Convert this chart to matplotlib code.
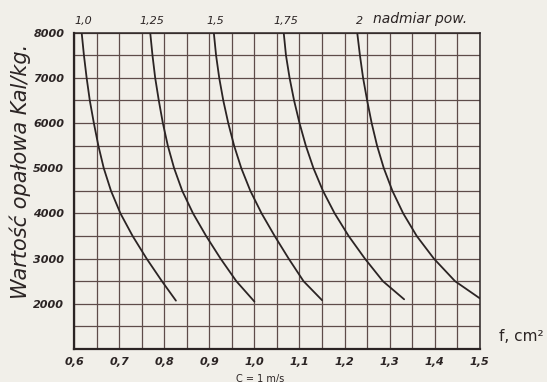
import numpy as np
import matplotlib
matplotlib.use("Agg")
import matplotlib.pyplot as plt

Q1 = [8000, 7500, 7000, 6500, 6000, 5500, 5000, 4500, 4000, 3500, 3000, 2500, 2070]
f1 = [0.617, 0.622, 0.628, 0.635, 0.644, 0.654, 0.666, 0.682, 0.703, 0.730, 0.761, 0.795, 0.826]

Q2 = [8000, 7500, 7000, 6500, 6000, 5500, 5000, 4500, 4000, 3500, 3000, 2500, 2050]
f2 = [0.769, 0.774, 0.780, 0.788, 0.797, 0.808, 0.822, 0.840, 0.864, 0.893, 0.925, 0.960, 1.000]

Q3 = [8000, 7500, 7000, 6500, 6000, 5500, 5000, 4500, 4000, 3500, 3000, 2500, 2080]
f3 = [0.910, 0.915, 0.922, 0.931, 0.942, 0.955, 0.971, 0.991, 1.016, 1.045, 1.076, 1.109, 1.150]

Q4 = [8000, 7500, 7000, 6500, 6000, 5500, 5000, 4500, 4000, 3500, 3000, 2500, 2100]
f4 = [1.065, 1.070, 1.078, 1.088, 1.100, 1.114, 1.131, 1.152, 1.178, 1.209, 1.245, 1.285, 1.332]

Q5 = [8000, 7500, 7000, 6500, 6000, 5500, 5000, 4500, 4000, 3500, 3000, 2500, 2120]
f5 = [1.228, 1.234, 1.241, 1.250, 1.260, 1.272, 1.287, 1.306, 1.330, 1.360, 1.398, 1.445, 1.500]

curve_labels = ["1,0", "1,25", "1,5", "1,75", "2"]

x_ticks = [0.6, 0.7, 0.8, 0.9, 1.0, 1.1, 1.2, 1.3, 1.4, 1.5]
x_ticklabels = ["0,6", "0,7", "0,8", "0,9", "1,0", "1,1", "1,2", "1,3", "1,4", "1,5"]
y_ticks = [2000, 3000, 4000, 5000, 6000, 7000, 8000]

paper = "#f1efe9"
ink = "#2b2424"
gridc = "#5e4c4a"

fig = plt.figure(figsize=(5.47, 3.82), dpi=100, facecolor=paper)
ax = fig.add_axes([0.1353, 0.0864, 0.742, 0.828], facecolor=paper)

ax.set_xlim(0.6, 1.5)
ax.set_ylim(1000, 8000)

for xv in np.arange(0.6, 1.5001, 0.05):
    ax.axvline(xv, color=gridc, lw=0.9, zorder=1)
for yv in np.arange(1000, 8001, 500):
    ax.axhline(yv, color=gridc, lw=0.9, zorder=1)

curves = [(f1, Q1), (f2, Q2), (f3, Q3), (f4, Q4), (f5, Q5)]
for f, Q in curves:
    ax.plot(f, Q, color=ink, lw=1.3, zorder=3, solid_capstyle="round",
            solid_joinstyle="round")

for (f, Q), lab in zip(curves, curve_labels):
    ax.text(f[0] + 0.004, 8150, lab, ha="center", va="bottom", fontsize=8,
            style="italic", color=ink)
ax.text(f5[0] + 0.035, 8150, "nadmiar pow.", ha="left", va="bottom", fontsize=10,
        style="italic", color=ink)

for s in ax.spines.values():
    s.set_color(ink)
    s.set_linewidth(1.1)
ax.spines["left"].set_linewidth(1.6)
ax.spines["bottom"].set_linewidth(1.6)

ax.set_xticks(x_ticks)
ax.set_xticklabels(x_ticklabels)
ax.set_yticks(y_ticks)
ax.set_yticklabels([str(v) for v in y_ticks])
ax.tick_params(length=0, labelsize=8, colors=ink)
ax.tick_params(axis="x", pad=6)
ax.tick_params(axis="y", pad=7)
for t in ax.get_xticklabels() + ax.get_yticklabels():
    t.set_style("italic")
    t.set_fontweight("bold")

ax.set_ylabel("Wartość opałowa Kal/kg.", fontsize=15, style="italic", color=ink)
ax.yaxis.set_label_coords(-0.105, 0.56)
fig.text(0.913, 0.118, "f, cm²", fontsize=11, color=ink, ha="left", va="center")
fig.text(0.432, -0.004, "C = 1 m/s", fontsize=7, color=ink, ha="left", va="bottom")

fig.savefig("out.png", dpi=100, facecolor=paper)
